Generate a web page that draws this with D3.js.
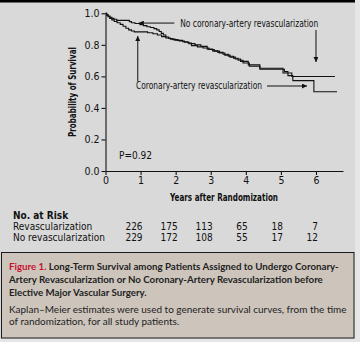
<!DOCTYPE html>
<html><head><meta charset="utf-8">
<script src="https://cdn.jsdelivr.net/npm/d3@7"></script>
<style>
html,body{margin:0;padding:0;background:#e6e6e6;}
svg{display:block;}
.cond{font-family:"Liberation Sans Narrow","DejaVu Sans Condensed","Roboto Condensed","Liberation Sans",sans-serif;}
.sans{font-family:"Lato","Noto Sans","Liberation Sans",sans-serif;}
</style></head>
<body>
<svg id="chart" width="360" height="342"></svg>
<script>
// ---- data ----
const xTicks = [0, 1, 2, 3, 4, 5, 6];
const yTicks = [0, 0.2, 0.4, 0.6, 0.8, 1.0];
const noRevascT = [0, 0.04, 0.08, 0.13, 0.18, 0.24, 0.32, 0.68, 0.74, 0.84, 0.98, 1.08, 1.18, 1.28, 1.38, 1.46, 1.53, 1.59, 1.65, 1.72, 1.8, 1.92, 2.05, 2.2, 2.35, 2.45, 2.62, 2.78, 2.95, 3.1, 3.25, 3.4, 3.55, 3.7, 3.85, 4.07, 4.4, 5.06, 5.31, 6.54];
const noRevascS = [1.0, 0.99, 0.982, 0.975, 0.968, 0.962, 0.955, 0.947, 0.94, 0.935, 0.928, 0.922, 0.915, 0.91, 0.903, 0.895, 0.885, 0.873, 0.862, 0.85, 0.84, 0.833, 0.828, 0.82, 0.812, 0.795, 0.787, 0.78, 0.77, 0.76, 0.748, 0.735, 0.722, 0.71, 0.695, 0.673, 0.652, 0.621, 0.599, 0.599];
const revascT = [0, 0.03, 0.07, 0.12, 0.18, 0.25, 0.33, 0.42, 0.5, 0.58, 0.66, 0.74, 0.82, 1.2, 1.35, 1.48, 1.6, 1.72, 1.85, 1.98, 2.1, 2.25, 2.38, 2.55, 2.72, 2.9, 3.05, 3.2, 3.35, 3.5, 3.65, 3.78, 3.92, 4.1, 4.4, 5.1, 5.2, 5.34, 5.94, 6.6];
const revascS = [1.0, 0.988, 0.978, 0.968, 0.958, 0.948, 0.94, 0.93, 0.918, 0.905, 0.895, 0.888, 0.882, 0.877, 0.87, 0.862, 0.852, 0.843, 0.836, 0.83, 0.824, 0.816, 0.808, 0.8, 0.79, 0.773, 0.762, 0.752, 0.74, 0.728, 0.715, 0.702, 0.685, 0.664, 0.645, 0.63, 0.605, 0.573, 0.503, 0.503];
const riskLabels = ["Revascularization", "No revascularization"];
const riskRevasc = [226, 175, 113, 65, 18, 7];
const riskNoRevasc = [229, 172, 108, 55, 17, 12];
const pValue = "P=0.92";

// ---- layout ----
const svg = d3.select("#chart");
const ink = "#111";
svg.append("rect").attr("x",0).attr("y",0).attr("width",360).attr("height",342).attr("fill","#e6e6e6");
svg.append("rect").attr("x",0).attr("y",0).attr("width",355).attr("height",339).attr("fill","#d9d9d9");
svg.append("rect").attr("x",0).attr("y",0).attr("width",355).attr("height",2.5).attr("fill","#000");

const x = d3.scaleLinear().domain([0, 6.77]).range([105.5, 343]);
const y = d3.scaleLinear().domain([0, 1]).range([171, 13.3]);

// axes
const gx = svg.append("g").attr("transform","translate(0,171)")
  .call(d3.axisBottom(x).tickValues(xTicks).tickSize(4).tickSizeOuter(0).tickPadding(2).tickFormat(d3.format("d")));
const gy = svg.append("g").attr("transform","translate(105.5,0)")
  .call(d3.axisLeft(y).tickValues(yTicks).tickSize(4).tickSizeOuter(0).tickPadding(2).tickFormat(d3.format(".1f")));
[gx, gy].forEach(g => {
  g.selectAll("path,line").attr("stroke", ink).attr("stroke-width", 1.1);
  g.selectAll("text").attr("class","cond").attr("font-size", 10.5).attr("fill", ink);
});

// curves
const line = d3.line().x(d => x(d[0])).y(d => y(d[1])).curve(d3.curveStepAfter);
const series = [
  d3.zip(noRevascT, noRevascS),
  d3.zip(revascT, revascS)
];
svg.selectAll("path.km").data(series).enter().append("path").attr("class","km")
  .attr("d", line).attr("fill","none").attr("stroke", ink).attr("stroke-width", 1.1);

// arrow markers
const defs = svg.append("defs");
defs.append("marker").attr("id","ah").attr("viewBox","0 0 10 10").attr("refX",10).attr("refY",5)
  .attr("markerWidth",6).attr("markerHeight",5).attr("markerUnits","userSpaceOnUse").attr("orient","auto")
  .append("path").attr("d","M0,0L10,5L0,10z").attr("fill", ink);

function arrow(x1,y1,x2,y2){
  svg.append("line").attr("x1",x1).attr("y1",y1).attr("x2",x2).attr("y2",y2)
    .attr("stroke",ink).attr("stroke-width",1).attr("marker-end","url(#ah)");
}
// annotations
arrow(x(1.96), y(0.938), x(0.95), y(0.938));
svg.append("text").attr("class","cond").attr("x", x(2.13)).attr("y", 26.5).attr("font-size",10)
  .attr("fill",ink).attr("textLength",138).attr("lengthAdjust","spacingAndGlyphs").text("No coronary-artery revascularization");
arrow(x(6.0), 30, x(6.0), 62);
arrow(x(0.92), 81.5, x(0.92), 36);
svg.append("text").attr("class","cond").attr("x", 136).attr("y", 89).attr("font-size",10)
  .attr("fill",ink).attr("textLength",126).attr("lengthAdjust","spacingAndGlyphs").text("Coronary-artery revascularization");
arrow(267, 86, 307, 86);
svg.append("text").attr("class","cond").attr("x", 119).attr("y", 159).attr("font-size",10)
  .attr("fill",ink).text(pValue);

// axis titles
svg.append("text").attr("class","cond").attr("x",224).attr("y",200.5).attr("text-anchor","middle")
  .attr("font-size",10.5).attr("font-weight","bold").attr("fill",ink)
  .attr("textLength",108).attr("lengthAdjust","spacingAndGlyphs").text("Years after Randomization");
svg.append("text").attr("class","cond").attr("transform","translate(76,92) rotate(-90)").attr("text-anchor","middle")
  .attr("font-size",10.5).attr("font-weight","bold").attr("fill",ink)
  .attr("textLength",90).attr("lengthAdjust","spacingAndGlyphs").text("Probability of Survival");

// risk table
svg.append("text").attr("class","cond").attr("x",13).attr("y",218.5).attr("font-size",10)
  .attr("font-weight","bold").attr("fill",ink).text("No. at Risk");
const rowsY = [229.5, 240.5];
riskLabels.forEach((lab,i) => {
  svg.append("text").attr("class","cond").attr("x",13).attr("y",rowsY[i]).attr("font-size",10)
    .attr("fill",ink).text(lab);
});
[riskRevasc, riskNoRevasc].forEach((arr,i) => {
  svg.selectAll(null).data(arr).enter().append("text").attr("class","cond")
    .attr("x",(d,j) => x(j+1) + 2).attr("y",rowsY[i]).attr("text-anchor","end")
    .attr("font-size",10).attr("fill",ink).text(d => d);
});

// caption box
svg.append("rect").attr("x",1.5).attr("y",252.5).attr("width",352.5).attr("height",85.5)
  .attr("fill","#cdc5bc").attr("stroke","#1a1a1a").attr("stroke-width",1);

const cap1 = svg.append("text").attr("class","sans").attr("x",9).attr("y",269.5)
  .attr("font-weight","bold").attr("fill","#222").attr("font-size",10);
cap1.append("tspan").attr("fill","#c8102e").text("Figure 1. ");
cap1.append("tspan").text("Long-Term Survival among Patients Assigned to Undergo Coronary-");
const cap2 = svg.append("text").attr("class","sans").attr("x",9).attr("y",282.5)
  .attr("font-weight","bold").attr("fill","#222").attr("font-size",10)
  .text("Artery Revascularization or No Coronary-Artery Revascularization before");
const cap3 = svg.append("text").attr("class","sans").attr("x",9).attr("y",295.5)
  .attr("font-weight","bold").attr("fill","#222").attr("font-size",10)
  .text("Elective Major Vascular Surgery.");
const cap4 = svg.append("text").attr("class","sans").attr("x",9).attr("y",313)
  .attr("fill","#222").attr("font-size",10)
  .text("Kaplan\u2013Meier estimates were used to generate survival curves, from the time");
const cap5 = svg.append("text").attr("class","sans").attr("x",9).attr("y",325)
  .attr("fill","#222").attr("font-size",10)
  .text("of randomization, for all study patients.");
// uniform sizes so the long lines fit the box widths seen in the reference
const boldFs = Math.min(10 * 338 / cap1.node().getComputedTextLength(), 10 * 314 / cap2.node().getComputedTextLength());
const regFs = 10 * 338 / cap4.node().getComputedTextLength();
[cap1, cap2, cap3].forEach(s => s.attr("font-size", boldFs.toFixed(2)));
[cap4, cap5].forEach(s => s.attr("font-size", regFs.toFixed(2)));
</script>
</body></html>
